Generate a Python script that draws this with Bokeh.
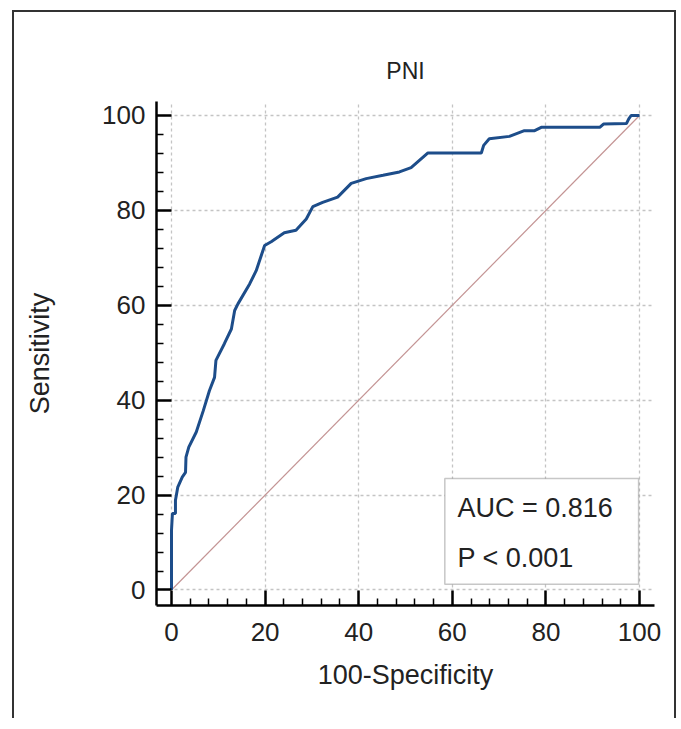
from bokeh.plotting import figure
from bokeh.models import Range1d, FixedTicker, Label, BoxAnnotation
from bokeh.embed import file_html
from bokeh.resources import INLINE

# ROC curve (100-Specificity, Sensitivity)
fpr = [0, 0, 0.2, 0.85, 0.85, 1.35, 2.3, 3.0, 3.1, 3.7,
       5.3, 6.8, 8.1, 9.2, 9.5, 11.3, 12.8, 13.5, 14.2, 16.7,
       18.1, 19.9, 21.3, 24.1, 26.6, 28.8, 30.2, 32.3, 35.5, 38.4,
       41.6, 45.2, 48.7, 51.2, 54.8, 66.2, 66.7, 67.9, 72.2, 75.4,
       77.6, 79.0, 91.5, 92.3, 97.2, 97.7, 98.2, 100]
tpr = [0, 12.5, 16.1, 16.1, 18.9, 21.7, 23.8, 24.8, 28.0, 30.1,
       33.3, 37.8, 42.0, 44.8, 48.4, 51.9, 55.0, 58.9, 60.3, 64.5,
       67.3, 72.6, 73.4, 75.3, 75.8, 78.2, 80.8, 81.7, 82.8, 85.7,
       86.7, 87.4, 88.1, 89.0, 92.1, 92.1, 93.7, 95.1, 95.6, 96.8,
       96.8, 97.5, 97.5, 98.2, 98.3, 99.3, 100, 100]
ref_x = [0, 100]
ref_y = [0, 100]
major_ticks = [0, 20, 40, 60, 80, 100]
minor_ticks = [v for v in range(0, 101, 4) if v not in major_ticks]
title_text = "PNI"
x_label = "100-Specificity"
y_label = "Sensitivity"
auc_text = "AUC = 0.816"
p_text = "P < 0.001"

FONT = "Liberation Sans"
TXT = "#222222"

p = figure(width=664, height=708, output_backend="svg", toolbar_location=None,
           x_range=Range1d(-3.2, 103.2), y_range=Range1d(-3.27, 102.95),
           min_border_left=142, min_border_right=24, min_border_top=89,
           min_border_bottom=115, title=title_text)
p.styles = {"border-left": "2px solid #333333", "border-top": "2px solid #333333",
            "border-right": "2px solid #333333"}
p.margin = (10, 0, 0, 12)
p.outline_line_color = None
p.background_fill_color = "white"
p.border_fill_color = "white"

p.title.align = "center"
p.title.text_font = FONT
p.title.text_font_size = "23px"
p.title.text_font_style = "normal"
p.title.text_color = TXT
p.title.standoff = 36

for ax, lab in ((p.xaxis[0], x_label), (p.yaxis[0], y_label)):
    ax.ticker = FixedTicker(ticks=major_ticks, minor_ticks=minor_ticks)
    ax.axis_label = lab
    ax.axis_label_text_font = FONT
    ax.axis_label_text_font_size = "27px"
    ax.axis_label_text_font_style = "normal"
    ax.axis_label_text_color = TXT
    ax.major_label_text_font = FONT
    ax.major_label_text_font_size = "26px"
    ax.major_label_text_color = TXT
    ax.axis_line_color = "black"
    ax.axis_line_width = 2.5
    ax.major_tick_line_color = "black"
    ax.major_tick_line_width = 2.5
    ax.major_tick_in = 15
    ax.major_tick_out = 0
    ax.minor_tick_line_color = "black"
    ax.minor_tick_line_width = 1.5
    ax.minor_tick_in = 7
    ax.minor_tick_out = 0

p.xaxis.major_label_standoff = 17
p.xaxis.axis_label_standoff = 16
p.yaxis.major_label_standoff = 11
p.yaxis.axis_label_standoff = 44

for g in (p.xgrid[0], p.ygrid[0]):
    g.ticker = FixedTicker(ticks=major_ticks)
    g.grid_line_color = "#c4c4c4"
    g.grid_line_dash = "3 3"
    g.grid_line_width = 1.3

p.line(ref_x, ref_y, line_color="#c49494", line_width=1.2)
p.line(fpr, tpr, line_color="#1d4d8a", line_width=3)

box = BoxAnnotation(left=58.4, right=99.8, bottom=1.2, top=23.5,
                    fill_color="white", fill_alpha=1.0,
                    line_color="#444444", line_width=1.5, level="overlay")
p.add_layout(box)
for txt, yy in ((auc_text, 17.2), (p_text, 6.8)):
    p.add_layout(Label(x=61.1, y=yy, text=txt, text_font=FONT,
                       text_font_size="27px", text_color=TXT,
                       text_baseline="middle", text_align="left", level="overlay"))

open("out.html", "w").write(file_html(p, INLINE))
